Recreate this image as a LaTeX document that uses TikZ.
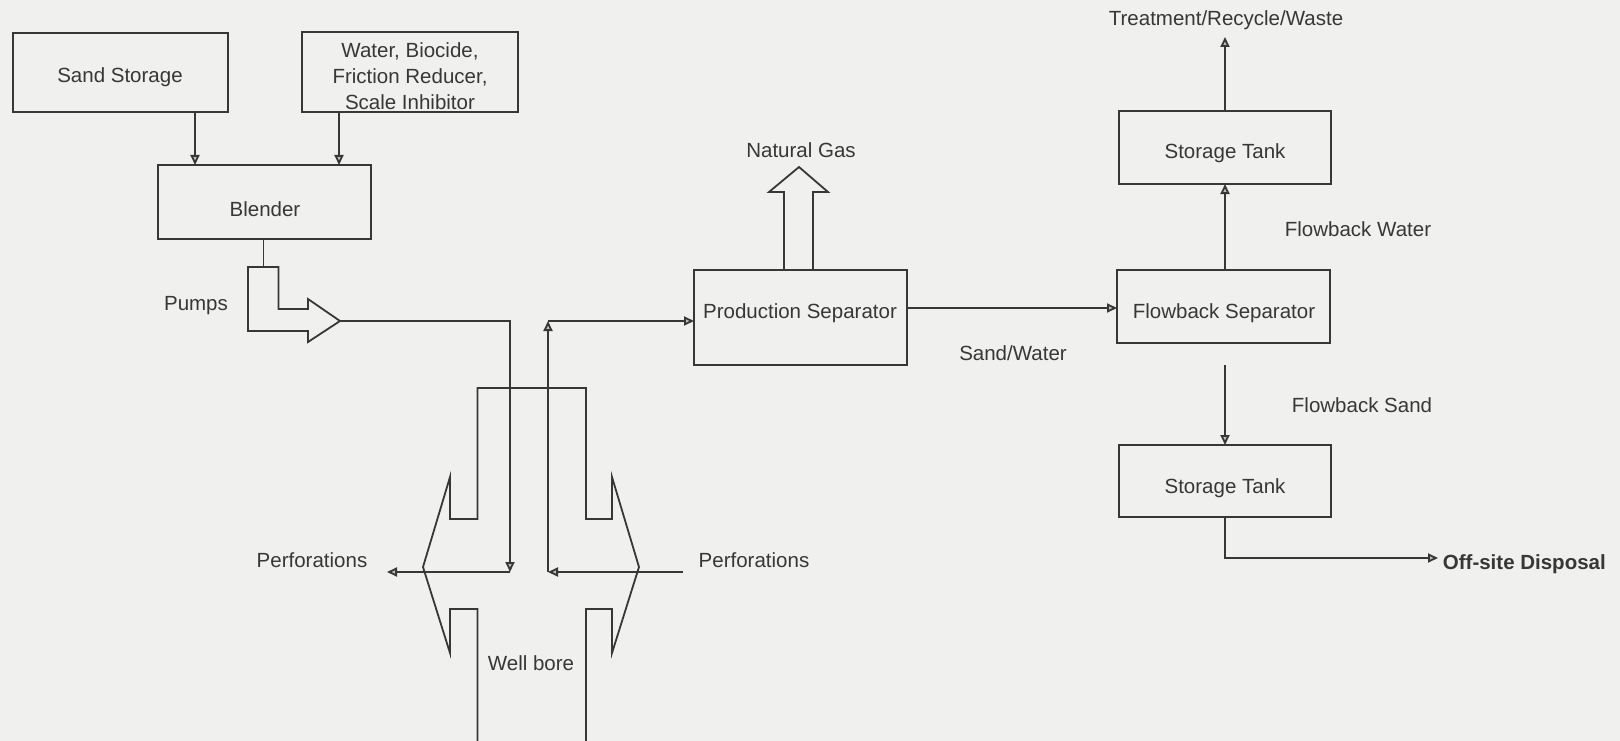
\documentclass[tikz,border=0pt]{standalone}
\usepackage{fontspec}
\setmainfont{Liberation Sans}
\usetikzlibrary{arrows.meta,calc}
\definecolor{bg}{RGB}{240,240,238}
\definecolor{ink}{RGB}{55,55,55}
\begin{document}
\begin{tikzpicture}[x=1pt,y=-1pt,line width=1.8pt,color=ink,
  box/.style={draw=ink,rectangle,inner sep=0pt,outer sep=0pt,fill=bg},
  txt/.style={font=\fontsize{20.5}{26}\selectfont,text=ink,inner sep=0pt,align=center},
  arr/.style={-{Triangle[length=10pt,width=9pt,fill=gray!50]}}]
\fill[bg] (0,0) rectangle (1620,741);
\useasboundingbox (0,0) rectangle (1620,741);
% boxes
\node[box,minimum width=215pt,minimum height=79pt] (sand) at (120.5,72.5) {};
\node[txt] (sandt) at (120,77) {Sand Storage};
\node[box,minimum width=216pt,minimum height=80pt] (water) at (410,72) {};
\node[txt] (watert) at (410,76) {Water, Biocide,\\Friction Reducer,\\Scale Inhibitor};
\node[box,minimum width=213pt,minimum height=74pt] (blender) at (264.5,202) {};
\node[txt] (blendert) at (265,209) {Blender};
\node[box,minimum width=213pt,minimum height=95pt] (prod) at (800.5,317.5) {};
\node[txt] (prodt) at (800,313) {Production Separator};
\node[box,minimum width=213pt,minimum height=73pt] (fsep) at (1223.5,306.5) {};
\node[txt] (fsept) at (1224,313) {Flowback Separator};
\node[box,minimum width=212pt,minimum height=73pt] (tank1) at (1225,147.5) {};
\node[txt] (tank1t) at (1225,153) {Storage Tank};
\node[box,minimum width=212pt,minimum height=72pt] (tank2) at (1225,481) {};
\node[txt] (tank2t) at (1225,488) {Storage Tank};
% labels
\node[txt] (gas) at (801,150) {Natural Gas};
\node[txt] (pumps) at (196,306) {Pumps};
\node[txt] (perfl) at (312,560) {Perforations};
\node[txt] (perfr) at (754,560) {Perforations};
\node[txt] (well) at (531,663) {Well bore};
\node[txt] (sw) at (1013,353) {Sand/Water};
\node[txt] (treat) at (1226,20) {Treatment/Recycle/Waste};
\node[txt] (fwater) at (1358,229) {Flowback Water};
\node[txt] (fsand) at (1362,405) {Flowback Sand};
\node[txt,font=\fontsize{20.5}{26}\selectfont\bfseries,anchor=west] (off) at (1442,564) {Off-site Disposal};
% pump block arrow
\draw[fill=bg] (248,267) -- (278.5,267) -- (278.5,309) -- (308,309) -- (308,299) -- (340,321) -- (308,342) -- (308,331) -- (248,331) -- cycle;
\coordinate (pumpin) at (263.5,267);
\coordinate (pumpout) at (340,321);
% natural gas block arrow
\draw (784,270) -- (784,192) -- (769,192) -- (799,167) -- (828,192) -- (813,192) -- (813,270);
% well bore
\draw (477.5,741) -- (477.5,609) -- (450,609) -- (450,653) -- (423,567) -- (450,477) -- (450,519) -- (477.5,519) -- (477.5,388) -- (586,388) -- (586,519) -- (612,519) -- (612,477) -- (639,567) -- (612,653) -- (612,609) -- (586,609) -- (586,741);
% coordinates
\coordinate (wdown) at (510,321);
\coordinate (wbot) at (510,572);
\coordinate (perfL) at (387,572);
\coordinate (perfRs) at (683,572);
\coordinate (wup) at (548,572);
\coordinate (wtop) at (548,321);
\coordinate (treatin) at (1225,37);
\coordinate (fsandtop) at (1225,365);
\coordinate (offin) at (1438,558);
% connectors
\draw[arr] (195,0 |- sand.south) -- (195,0 |- blender.north);
\draw[arr] (339,0 |- water.south) -- (339,0 |- blender.north);
\draw (pumpin |- blender.south) -- (pumpin);
\draw[arr] (pumpout) -- (wdown) -- (wbot);
\draw[arr] (wbot) -- (perfL);
\draw[arr] (perfRs) -- (wup);
\draw[arr] (wup) -- (wtop);
\draw[arr] (wtop) -- (wtop -| prod.west);
\draw[arr] (prod.east |- 0,308) -- (fsep.west |- 0,308);
\draw[arr] (tank1.south |- fsep.north) -- (tank1.south);
\draw[arr] (tank1.north) -- (treatin);
\draw[arr] (fsandtop) -- (tank2.north);
\draw[arr] (tank2.south) |- (offin);
\end{tikzpicture}
\end{document}
